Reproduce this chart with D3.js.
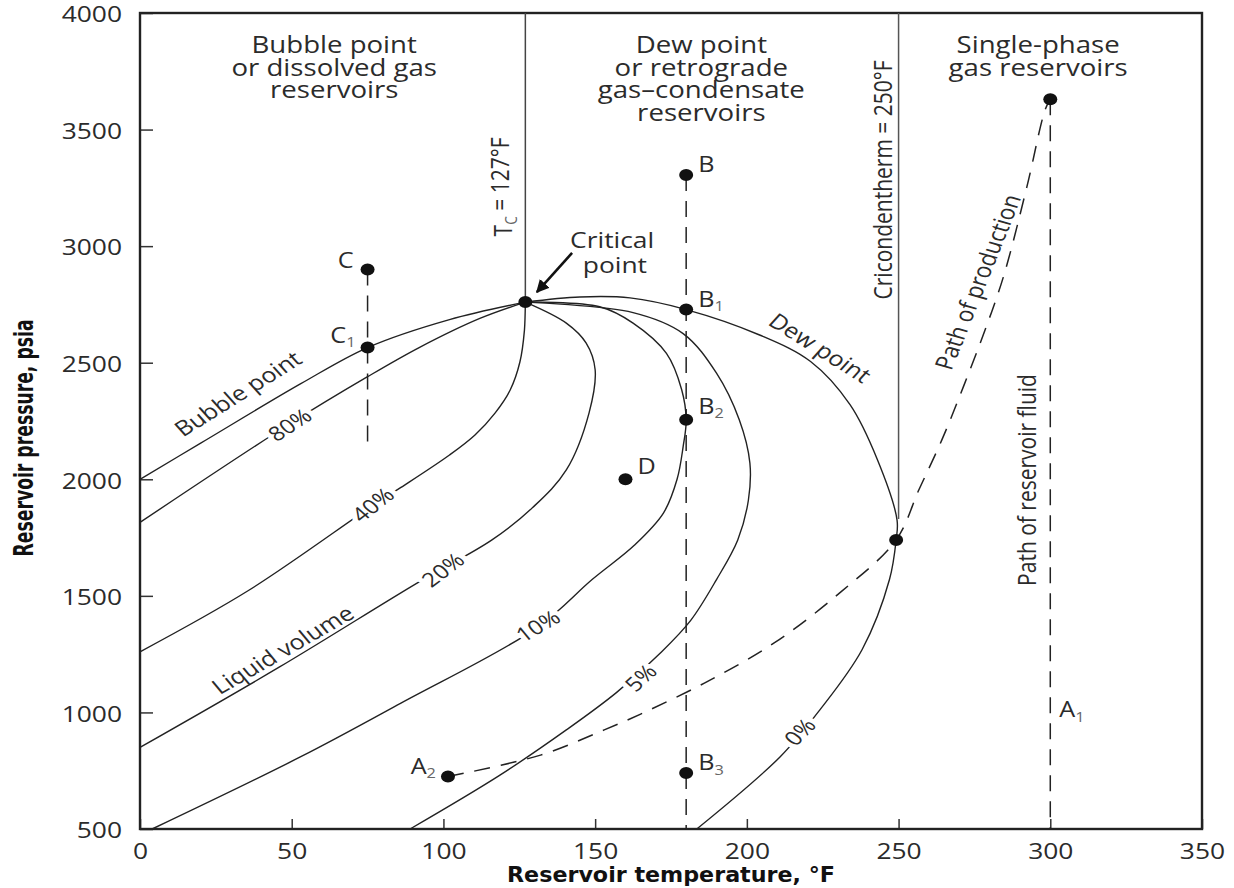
<!DOCTYPE html>
<html>
<head>
<meta charset="utf-8">
<script src="https://cdn.jsdelivr.net/npm/d3@7"></script>
<style>
  body { margin: 0; background: #fff; }
  svg { display: block; }
  text { font-family: "Open Sans", "Noto Sans", sans-serif; fill: #2b2b2b; }
  .axis-title { font-family: "DejaVu Sans Condensed", "Liberation Sans Narrow", Roboto, sans-serif; font-weight: bold; fill: #111; }
</style>
</head>
<body>
<div id="chart"></div>
<script>
// values: temperature in °F, pressure in psia
const xTicks = [0, 50, 100, 150, 200, 250, 300, 350];
const yTicks = [500, 1000, 1500, 2000, 2500, 3000, 3500, 4000];

const criticalTemp = 127;
const cricondentherm = 250;
const criticalPoint = [127, 2760];

// phase envelope + quality lines, each ends at the critical point
const bubblePoint = [[0, 2000], [20, 2155], [53, 2410], [75, 2565], [102, 2685], [127, 2760]];
const liquid80 = [[0, 1815], [49, 2235], [75, 2440], [92, 2565], [112, 2690], [127, 2760]];
const liquid40 = [[0, 1260], [36, 1525], [77, 1890], [86, 1965], [102, 2104], [110.4, 2190], [117, 2284], [122, 2383], [125.2, 2503], [126.7, 2640], [127, 2760]];
const liquid20 = [[0, 850], [46, 1195], [92, 1560], [116, 1740], [129.5, 1880], [140.5, 2040], [148, 2285], [150, 2470], [147, 2585], [140.5, 2670], [127, 2760]];
const liquid10 = [[4, 500], [53, 810], [86, 1040], [131, 1365], [149, 1570], [163, 1718], [172.5, 1855], [177, 2000], [179, 2140], [180, 2255], [178.5, 2385], [173.5, 2540], [162.5, 2670], [151.5, 2740], [127, 2760]];
const liquid5 = [[89, 500], [118.5, 730], [140.5, 925], [157, 1085], [171.5, 1255], [181.5, 1395], [190, 1570], [197, 1740], [200.5, 1910], [201, 2070], [197.5, 2255], [190, 2455], [179, 2625], [162.5, 2715], [127, 2760]];
const dewPoint = [[183.5, 500], [211, 810], [224, 1010], [238, 1270], [247, 1570], [249.2, 1740], [249.5, 1825], [243, 2085], [234, 2320], [221, 2505], [204, 2620], [180, 2728], [161.5, 2778], [145, 2782], [127, 2760]];

// dashed paths
const productionPath = [[101.5, 725], [132, 817], [153, 925], [165, 993], [186, 1126], [209, 1298], [231, 1517], [249.2, 1740], [256.7, 1955], [264.3, 2170], [271.6, 2405], [278.5, 2640], [284.7, 2875], [292.3, 3255], [298.3, 3585], [300, 3630]];
const reservoirFluidPath = [[300, 3630], [300, 500]];
const pathB = [[180, 3305], [180, 500]];
const pathC = [[75, 2900], [75, 2135]];

// marked states
const markerNames = ['C', 'C1', 'B', 'B1', 'B2', 'B3', 'D', 'A', 'A2', 'E', 'Tc'];
const markerTemps = [75, 75, 180, 180, 180, 180, 160, 300, 101.5, 249.2, 127];
const markerPress = [2900, 2565, 3305, 2728, 2255, 740, 2000, 3630, 725, 1740, 2760];

const width = 1234, height = 888;
const SX = 1.2; // the source art is stretched sideways, text follows it

const svg = d3.select('#chart').append('svg')
  .attr('width', width)
  .attr('height', height);

const x = d3.scaleLinear().domain([0, 350]).range([140, 1202]);
const y = d3.scaleLinear().domain([500, 4000]).range([829, 13]);

const line = d3.line()
  .x((d) => x(d[0]))
  .y((d) => y(d[1]))
  .curve(d3.curveCatmullRom.alpha(0.5));

const straight = d3.line().x((d) => x(d[0])).y((d) => y(d[1]));

// text helper, angle is the angle you see on screen
function note(px, py, str, angle = 0, size = 22, anchor = 'middle') {
  const r = angle * Math.PI / 180;
  const a = Math.atan2(SX * Math.sin(r), Math.cos(r)) * 180 / Math.PI;
  return svg.append('text')
    .attr('transform', `translate(${px},${py}) scale(${SX},1) rotate(${a})`)
    .attr('text-anchor', anchor)
    .attr('dy', '0.35em')
    .style('font-size', `${size}px`)
    .text(str);
}

function withSub(t, main, sub, after) {
  t.text(null);
  t.append('tspan').text(main);
  t.append('tspan').attr('dy', '0.3em').style('font-size', '0.65em').style('fill', '#666').text(sub);
  if (after) t.append('tspan').attr('dy', '-0.3em').text(after);
  return t;
}

// axes
svg.append('g')
  .attr('transform', `translate(${x(0)},0)`)
  .call(d3.axisLeft(y).tickValues(yTicks).tickFormat(d3.format('d')).tickSizeInner(-13).tickSizeOuter(0).tickPadding(15))
  .call((g) => g.select('.domain').remove())
  .call((g) => g.selectAll('line').attr('stroke', '#333').attr('stroke-width', 1.5))
  .selectAll('text')
  .attr('transform', `scale(${SX},1)`)
  .attr('dy', '0.4em')
  .style('font-size', '22px')
  .style('font-family', '"Open Sans", sans-serif')
  .attr('fill', '#333');

svg.append('g')
  .attr('transform', `translate(0,${y(500)})`)
  .call(d3.axisBottom(x).tickValues(xTicks).tickFormat(d3.format('d')).tickSizeInner(-10).tickSizeOuter(0).tickPadding(14))
  .call((g) => g.select('.domain').remove())
  .call((g) => g.selectAll('line').attr('stroke', '#333').attr('stroke-width', 1.5))
  .selectAll('text')
  .attr('transform', `scale(${SX},1)`)
  .style('font-size', '22px')
  .style('font-family', '"Open Sans", sans-serif')
  .attr('fill', '#333');

// frame
svg.append('rect')
  .attr('x', x(0)).attr('y', y(4000))
  .attr('width', x(350) - x(0)).attr('height', y(500) - y(4000))
  .attr('fill', 'none').attr('stroke', '#222').attr('stroke-width', 2.4);

// Tc and cricondentherm lines
svg.append('line')
  .attr('x1', x(criticalTemp)).attr('x2', x(criticalTemp))
  .attr('y1', y(4000)).attr('y2', y(criticalPoint[1]))
  .attr('stroke', '#444').attr('stroke-width', 1.5);
svg.append('line')
  .attr('x1', x(cricondentherm)).attr('x2', x(cricondentherm))
  .attr('y1', y(4000)).attr('y2', y(1830))
  .attr('stroke', '#555').attr('stroke-width', 1.5);

// envelope curves
[bubblePoint, liquid80, liquid40, liquid20, liquid10, liquid5, dewPoint].forEach((c) => {
  svg.append('path')
    .datum(c)
    .attr('fill', 'none')
    .attr('stroke', '#222')
    .attr('stroke-width', 1.4)
    .attr('d', line);
});

// dashed paths
svg.append('path').datum(productionPath)
  .attr('fill', 'none').attr('stroke', '#222').attr('stroke-width', 1.5)
  .attr('stroke-dasharray', '16,11').attr('d', line);
[reservoirFluidPath, pathB, pathC].forEach((p) => {
  svg.append('path').datum(p)
    .attr('fill', 'none').attr('stroke', '#222').attr('stroke-width', 1.5)
    .attr('stroke-dasharray', '16,10').attr('d', straight);
});

// dots (A1 has no dot)
markerNames.forEach((n, i) => {
  svg.append('ellipse')
    .attr('cx', x(markerTemps[i]))
    .attr('cy', y(markerPress[i]))
    .attr('rx', 7).attr('ry', 6)
    .attr('fill', '#111');
});

// point labels
const px = (i) => x(markerTemps[i]);
const py = (i) => y(markerPress[i]);
note(px(0) - 14, py(0) - 9, 'C', 0, 21, 'end');
withSub(note(px(1) - 12, py(1) - 12, '', 0, 21, 'end'), 'C', '1');
note(px(2) + 12, py(2) - 10, 'B', 0, 21, 'start');
withSub(note(px(3) + 12, py(3) - 10, '', 0, 21, 'start'), 'B', '1');
withSub(note(px(4) + 12, py(4) - 13, '', 0, 21, 'start'), 'B', '2');
withSub(note(px(5) + 12, py(5) - 10, '', 0, 21, 'start'), 'B', '3');
note(px(6) + 12, py(6) - 13, 'D', 0, 21, 'start');
withSub(note(px(8) - 12, py(8) - 10, '', 0, 21, 'end'), 'A', '2');
withSub(note(x(300) + 9, y(1010), '', 0, 21, 'start'), 'A', '1');

// curve labels, white halo breaks the line under the text
const halo = (t) => t.attr('stroke', '#fff').attr('stroke-width', 9)
  .attr('stroke-linejoin', 'round').attr('paint-order', 'stroke');
note(x(32.3), y(2366), 'Bubble point', -32, 21);
halo(note(x(49.4), y(2233), '80%', -33, 20));
halo(note(x(76.8), y(1890), '40%', -38, 20));
note(x(47.1), y(1268), 'Liquid volume', -30, 21);
halo(note(x(99.9), y(1611), '20%', -37, 20));
halo(note(x(131.2), y(1371), '10%', -30, 20));
halo(note(x(165.1), y(1148), '5%', -42, 20));
halo(note(x(217.5), y(916), '0%', -45, 20));
note(x(224.1), y(2563), 'Dew point', 32, 21);
note(x(276.2), y(2846), 'Path of production', -68, 21);
note(x(292.3), y(1997), 'Path of reservoir fluid', -90, 21);
note(x(244.9), y(3284), 'Cricondentherm = 250°F', -90, 21);
withSub(note(x(119.6), y(3254), '', -90, 21), 'T', 'C', ' = 127°F');

// critical point call-out
note(x(155.6), y(3026), 'Critical', 0, 22);
note(x(156.5), y(2919), 'point', 0, 22);
svg.append('defs').append('marker')
  .attr('id', 'arrow')
  .attr('viewBox', '0 0 10 10')
  .attr('refX', 9).attr('refY', 5)
  .attr('markerWidth', 5).attr('markerHeight', 5)
  .attr('orient', 'auto')
  .append('path').attr('d', 'M0,0L10,5L0,10Z').attr('fill', '#111');
svg.append('line')
  .attr('x1', x(142.4)).attr('y1', y(2971))
  .attr('x2', x(130.8)).attr('y2', y(2803))
  .attr('stroke', '#111').attr('stroke-width', 2.6)
  .attr('marker-end', 'url(#arrow)');

// region headers
const headerTop = y(4000);
[['Bubble point', 'or dissolved gas', 'reservoirs'],
 ['Dew point', 'or retrograde', 'gas–condensate', 'reservoirs'],
 ['Single-phase', 'gas reservoirs']].forEach((lines, k) => {
  const cx = x([64, 185, 296][k]);
  lines.forEach((s, j) => note(cx, headerTop + 32 + j * 22.5, s, 0, 23));
});

// axis titles
svg.append('text')
  .attr('class', 'axis-title')
  .attr('transform', `translate(33,438) scale(${SX},1) rotate(-90)`)
  .attr('text-anchor', 'middle')
  .attr('textLength', 237)
  .attr('lengthAdjust', 'spacingAndGlyphs')
  .style('font-size', '22px')
  .text('Reservoir pressure, psia');

svg.append('text')
  .attr('class', 'axis-title')
  .attr('x', 671).attr('y', 882)
  .attr('text-anchor', 'middle')
  .attr('textLength', 328)
  .attr('lengthAdjust', 'spacingAndGlyphs')
  .style('font-size', '21px')
  .text('Reservoir temperature, °F');
</script>
</body>
</html>
